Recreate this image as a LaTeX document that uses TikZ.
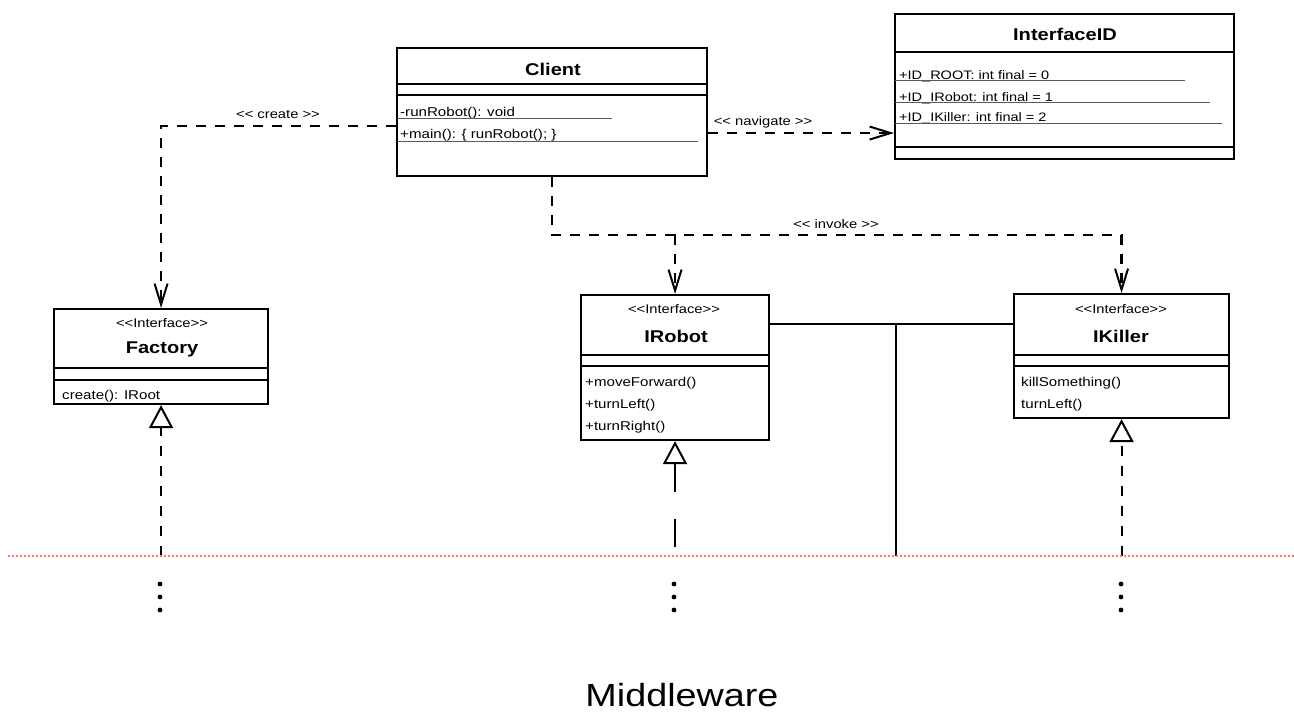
\documentclass[tikz,border=0pt]{standalone}
\usepackage{fontspec}
\setmainfont{Liberation Sans}[FakeStretch=1.18]
\usetikzlibrary{arrows.meta}

\tikzset{
  umlbox/.style={draw, line width=2.1pt, fill=white, inner sep=0pt, anchor=north west},
  sepline/.style={line width=2.1pt},
  uline/.style={line width=1pt, draw=black!65},
  title/.style={font=\fontsize{17}{20}\selectfont\bfseries, anchor=base, inner sep=0pt},
  stereo/.style={font=\fontsize{12.5}{15}\selectfont, anchor=base, inner sep=0pt},
  member/.style={font=\fontsize{12.8}{15}\selectfont, anchor=base west, inner sep=0pt},
  lbl/.style={font=\fontsize{12.5}{15}\selectfont, anchor=base, inner sep=0pt},
  dep/.style={line width=2.3pt, dash pattern=on 10pt off 9pt,
              -{Straight Barb[length=21pt, width=13pt, line width=2pt]}},
  real/.style={line width=2pt,
              -{Triangle[open, length=23pt, width=24pt, line width=2pt, fill=white]}},
  assoc/.style={line width=2.2pt},
  boundary/.style={draw=red!55, line width=1.5pt, dash pattern=on 2pt off 2pt},
}

\begin{document}
\begin{tikzpicture}[x=1pt, y=-1pt]
\useasboundingbox (0,0) rectangle (1294,713);

% helper levels
\coordinate (busY) at (0,235);
\coordinate (redY) at (0,556);
\coordinate (juncX) at (896,0);

% ---------- Client ----------
\node[umlbox, minimum width=310pt, minimum height=128pt] (client) at (396,47) {};
\draw[sepline] (client.west |- 0,84) -- (client.east |- 0,84);
\draw[sepline] (client.west |- 0,95) -- (client.east |- 0,95);
\node[title] (clientT) at (553,75) {Client};
\node[member] (clientM1) at (400,116) {-runRobot(): void};
\draw[uline] (397,118.5) -- (612,118.5);
\node[member] (clientM2) at (400,138) {+main(): \{ runRobot(); \}};
\draw[uline] (397,141) -- (698,141);

% ---------- InterfaceID ----------
\node[umlbox, minimum width=339pt, minimum height=145pt] (ifid) at (894,13) {};
\draw[sepline] (ifid.west |- 0,52) -- (ifid.east |- 0,52);
\draw[sepline] (ifid.west |- 0,147) -- (ifid.east |- 0,147);
\node[title] (ifidT) at (1065,40) {InterfaceID};
\node[member, font=\fontsize{12.3}{15}\selectfont] (ifidA1) at (899,79) {+ID\_ROOT: int final = 0};
\draw[uline] (895,80.5) -- (1185,80.5);
\node[member, font=\fontsize{12.3}{15}\selectfont] (ifidA2) at (899,101) {+ID\_IRobot: int final = 1};
\draw[uline] (895,102.5) -- (1210,102.5);
\node[member, font=\fontsize{12.3}{15}\selectfont] (ifidA3) at (899,121) {+ID\_IKiller: int final = 2};
\draw[uline] (895,123.5) -- (1222,123.5);

% ---------- Factory ----------
\node[umlbox, minimum width=214pt, minimum height=95pt] (factory) at (53,308) {};
\draw[sepline] (factory.west |- 0,368) -- (factory.east |- 0,368);
\draw[sepline] (factory.west |- 0,380) -- (factory.east |- 0,380);
\node[stereo] (factoryS) at (162,327) {<{}<Interface>{}>};
\node[title] (factoryT) at (162,353) {Factory};
\node[member] (factoryM1) at (62,399) {create(): IRoot};

% ---------- IRobot ----------
\node[umlbox, minimum width=188pt, minimum height=145pt] (irobot) at (580,294) {};
\draw[sepline] (irobot.west |- 0,355) -- (irobot.east |- 0,355);
\draw[sepline] (irobot.west |- 0,366) -- (irobot.east |- 0,366);
\node[stereo] (irobotS) at (674,313) {<{}<Interface>{}>};
\node[title] (irobotT) at (676,342) {IRobot};
\node[member] (irobotM1) at (585,386) {+moveForward()};
\node[member] (irobotM2) at (585,408) {+turnLeft()};
\node[member] (irobotM3) at (585,430) {+turnRight()};

% ---------- IKiller ----------
\node[umlbox, minimum width=215pt, minimum height=124pt] (ikiller) at (1013,293) {};
\draw[sepline] (ikiller.west |- 0,355) -- (ikiller.east |- 0,355);
\draw[sepline] (ikiller.west |- 0,366) -- (ikiller.east |- 0,366);
\node[stereo] (ikillerS) at (1121,313) {<{}<Interface>{}>};
\node[title] (ikillerT) at (1121,342) {IKiller};
\node[member] (ikillerM1) at (1021,386) {killSomething()};
\node[member] (ikillerM2) at (1021,408) {turnLeft()};

% ---------- dependencies ----------
\coordinate (createStart) at ([yshift=-14pt]client.west);
\draw[dep] (createStart) -| (factory.north);
\node[lbl] (createL) at (278,118) {<{}< create >{}>};

\coordinate (navStart) at ([yshift=-21pt]client.east);
\draw[dep] (navStart) -- (navStart -| ifid.west);
\node[lbl] (navL) at (763,125) {<{}< navigate >{}>};

\coordinate (bus) at (irobot.north |- busY);
\draw[dep] (client.south) |- (bus) -| (ikiller.north);
\draw[dep] (bus) -- (irobot.north);
\node[lbl] (invL) at (836,228) {<{}< invoke >{}>};

% ---------- association between the interfaces ----------
\coordinate (assocL) at ([yshift=43.5pt]irobot.east);
\draw[assoc] (assocL) -- (assocL -| ikiller.west);
\coordinate (junc) at (assocL -| juncX);
\draw[assoc] (junc) -- (junc |- redY);

% ---------- realizations from below the boundary ----------
\coordinate (fBase) at (factory.south |- redY);
\coordinate (rBase) at (irobot.south |- redY);
\coordinate (kBase) at (ikiller.south |- redY);
\draw[real, dash pattern=on 10pt off 10pt] (fBase) -- (factory.south);
\draw[real, dash pattern=on 0pt off 9pt on 28pt off 27pt on 60pt] (rBase) -- (irobot.south);
\draw[real, dash pattern=on 10pt off 10pt] (kBase) -- (ikiller.south);

% ---------- middleware boundary ----------
\draw[boundary] (8,556) -- (1294,556);

\foreach \px in {160,674,1121}{
  \foreach \py in {584,597,610}{
    \fill (\px,\py) circle (2.4pt);
  }
}

\node[anchor=base, inner sep=0pt, font=\fontsize{32}{38}\selectfont] (mw) at (682,706) {Middleware};
\end{tikzpicture}
\end{document}
